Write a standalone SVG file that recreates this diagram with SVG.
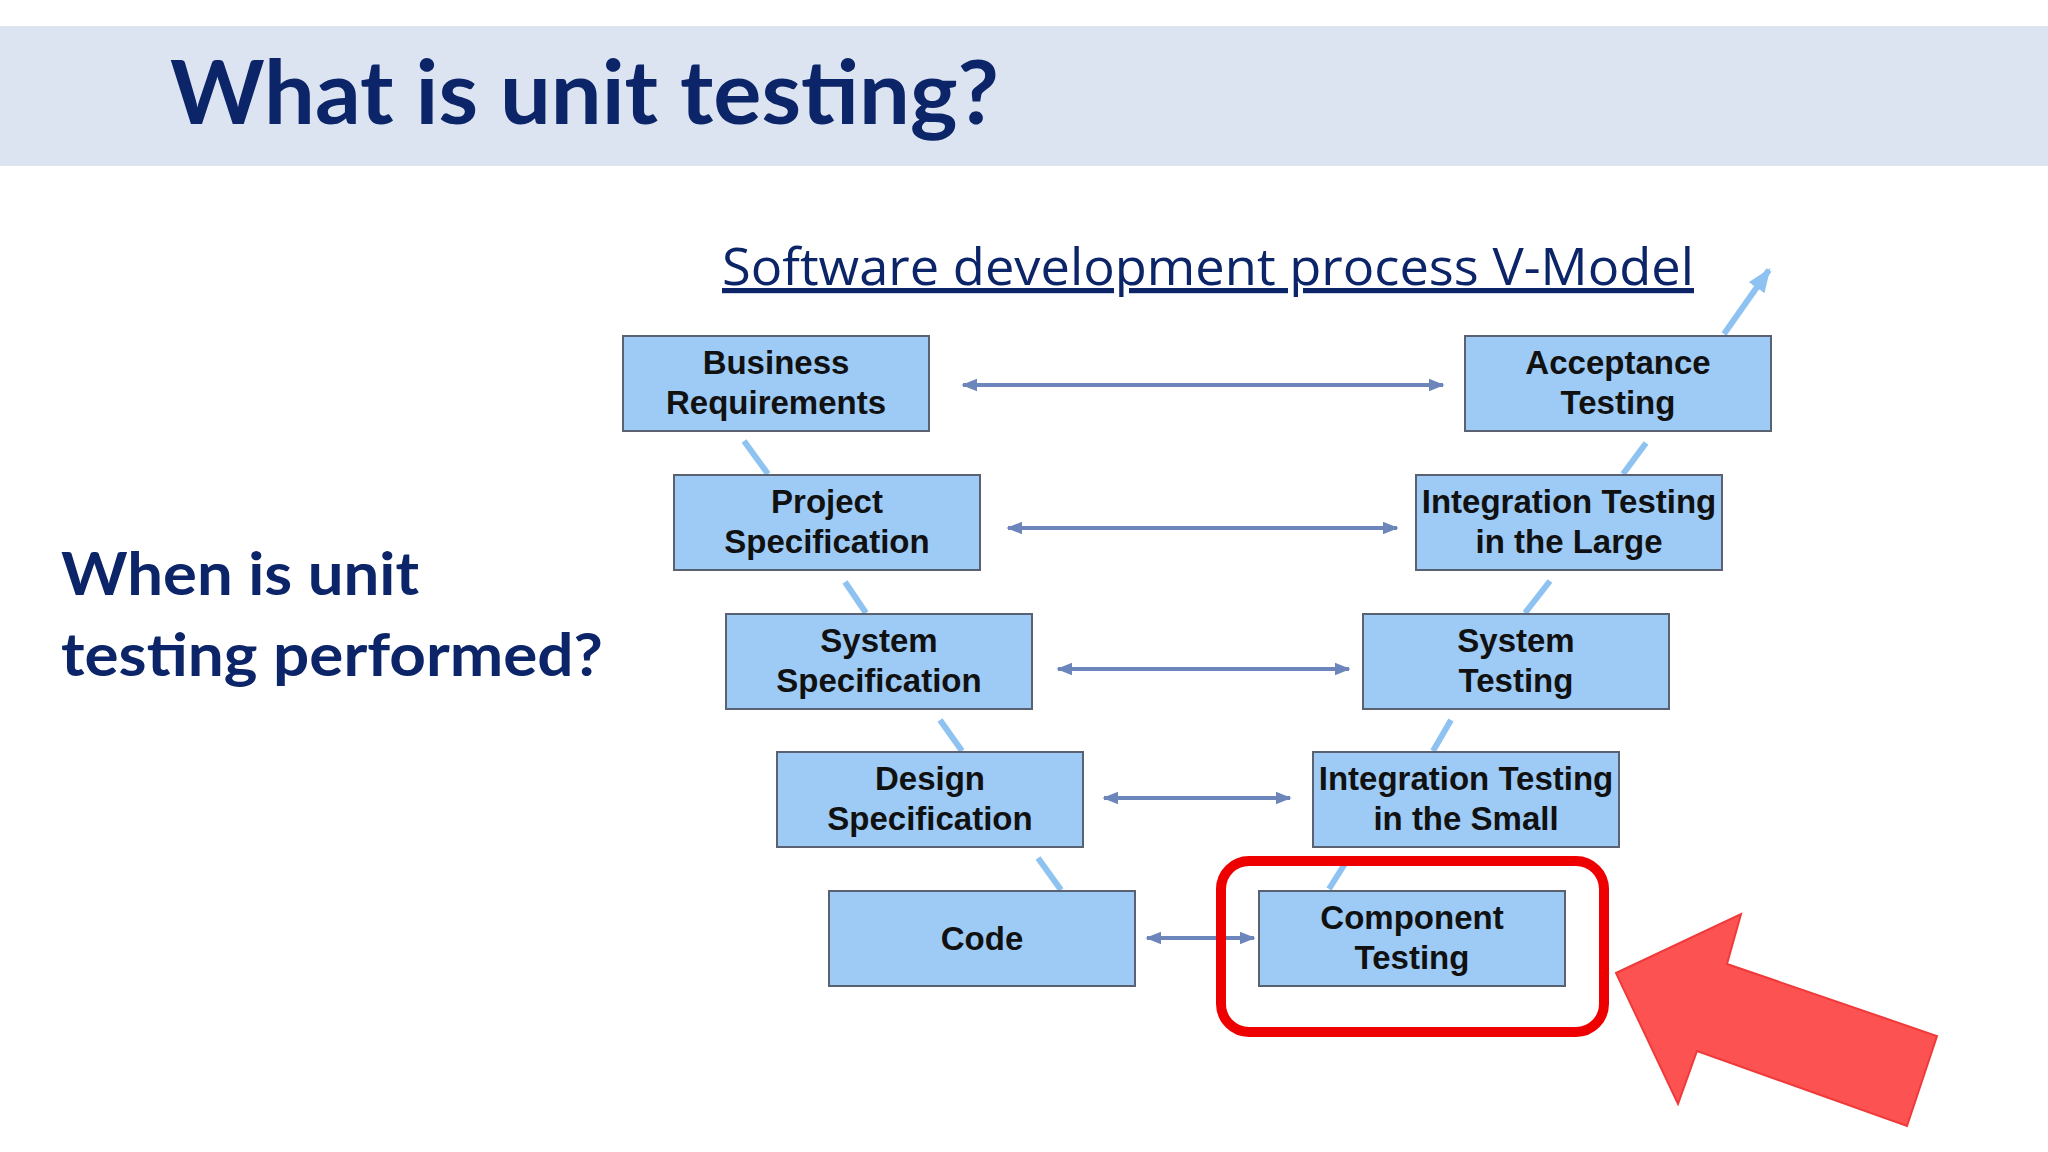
<svg xmlns="http://www.w3.org/2000/svg" width="2048" height="1152" viewBox="0 0 2048 1152">
<defs>
<style>
.box rect{fill:#9dcbf6;stroke:#5a6272;stroke-width:2}
.box text{font-family:"Liberation Sans",Arial,sans-serif;font-weight:bold;font-size:33px;fill:#111;text-anchor:middle}
.h{stroke:#6c86bb;stroke-width:4;marker-start:url(#a);marker-end:url(#a)}
.d{stroke:#8ec2f0;stroke-width:6}
</style>
<marker id="a" viewBox="0 0 10 10" refX="9" refY="5" markerWidth="4" markerHeight="4" orient="auto-start-reverse"><path d="M0,1 L10,5 L0,9 z" fill="#6c86bb"/></marker>
<marker id="b" viewBox="0 0 10 10" refX="9" refY="5" markerWidth="4" markerHeight="4" orient="auto"><path d="M0,1 L10,5 L0,9 z" fill="#8ec2f0"/></marker>
</defs>
<rect width="2048" height="1152" fill="#fff"/>
<rect x="0" y="26" width="2048" height="140" fill="#dce4f2"/>
<text x="170" y="124" font-family="Lato,'Open Sans',sans-serif" font-weight="bold" font-size="88" fill="#0c2468" textLength="829" lengthAdjust="spacingAndGlyphs">What is unit testing?</text>
<text x="722" y="285" font-family="'Open Sans','Liberation Sans',sans-serif" font-size="52" fill="#0c2468" text-decoration="underline" textLength="972" lengthAdjust="spacingAndGlyphs">Software development process V-Model</text>
<text font-family="Lato,'Open Sans',sans-serif" font-weight="bold" font-size="60" fill="#0c2468"><tspan x="61" y="595" textLength="358" lengthAdjust="spacingAndGlyphs">When is unit</tspan><tspan x="61" y="676" textLength="542" lengthAdjust="spacingAndGlyphs">testing performed?</tspan></text>
<g id="connectors">
<line class="h" x1="963" y1="385" x2="1443" y2="385"/>
<line class="h" x1="1008" y1="528" x2="1397" y2="528"/>
<line class="h" x1="1058" y1="669" x2="1349" y2="669"/>
<line class="h" x1="1104" y1="798" x2="1290" y2="798"/>
<line class="h" x1="1147" y1="938" x2="1254" y2="938"/>
<line class="d" x1="744" y1="441" x2="768" y2="474"/>
<line class="d" x1="845" y1="582" x2="866" y2="613"/>
<line class="d" x1="940" y1="720" x2="962" y2="751"/>
<line class="d" x1="1038" y1="858" x2="1061" y2="890"/>
<line class="d" x1="1329" y1="889" x2="1346" y2="862"/>
<line class="d" x1="1433" y1="751" x2="1451" y2="720"/>
<line class="d" x1="1525" y1="613" x2="1550" y2="581"/>
<line class="d" x1="1623" y1="474" x2="1646" y2="443"/>
<line class="d" x1="1724" y1="334" x2="1769" y2="270" marker-end="url(#b)"/>
</g>
<g id="n1" class="box"><rect x="623" y="336" width="306" height="95"/><text x="776" y="374">Business</text><text x="776" y="414">Requirements</text></g>
<g id="n2" class="box"><rect x="1465" y="336" width="306" height="95"/><text x="1618" y="374">Acceptance</text><text x="1618" y="414">Testing</text></g>
<g id="n3" class="box"><rect x="674" y="475" width="306" height="95"/><text x="827" y="513">Project</text><text x="827" y="553">Specification</text></g>
<g id="n4" class="box"><rect x="1416" y="475" width="306" height="95"/><text x="1569" y="513">Integration Testing</text><text x="1569" y="553">in the Large</text></g>
<g id="n5" class="box"><rect x="726" y="614" width="306" height="95"/><text x="879" y="652">System</text><text x="879" y="692">Specification</text></g>
<g id="n6" class="box"><rect x="1363" y="614" width="306" height="95"/><text x="1516" y="652">System</text><text x="1516" y="692">Testing</text></g>
<g id="n7" class="box"><rect x="777" y="752" width="306" height="95"/><text x="930" y="790">Design</text><text x="930" y="830">Specification</text></g>
<g id="n8" class="box"><rect x="1313" y="752" width="306" height="95"/><text x="1466" y="790">Integration Testing</text><text x="1466" y="830">in the Small</text></g>
<g id="n9" class="box"><rect x="829" y="891" width="306" height="95"/><text x="982" y="950">Code</text></g>
<g id="n10" class="box"><rect x="1259" y="891" width="306" height="95"/><text x="1412" y="929">Component</text><text x="1412" y="969">Testing</text></g>
<rect id="highlight" x="1221" y="861" width="383" height="171" rx="28" fill="none" stroke="#ee0000" stroke-width="10"/>
<polygon id="bigarrow" points="1616,973 1741,914 1727,964 1937,1036 1907,1126 1697,1051 1678,1104" fill="#fd5252" stroke="#f03a3a" stroke-width="2"/>
</svg>
